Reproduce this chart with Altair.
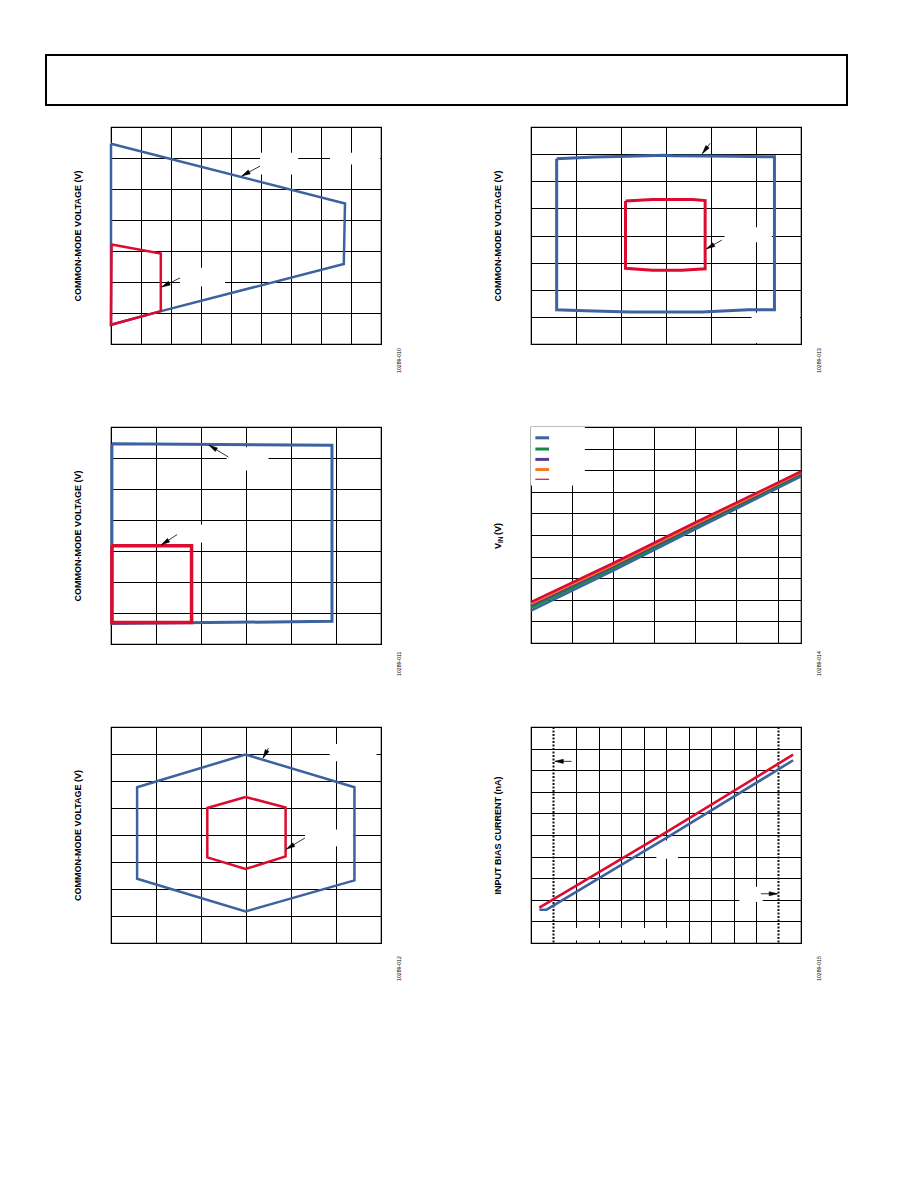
import math
import altair as alt
import pandas as pd

W, H = 270, 217
FONT = "Liberation Sans"

BLUE = "#3d62a0"
RED = "#dc0b2f"
GREEN = "#168a48"
PURPLE = "#5a3b93"
ORANGE = "#f47a22"

# ---------------- data ----------------
# Panel 1 (top-left)
p1_blue_x = [0.00, 7.80, 7.76, 1.67, 0.00, 0.00]
p1_blue_y = [6.46, 4.53, 2.58, 1.06, 0.62, 6.46]
p1_red_x = [0.02, 1.66, 1.66, 0.00, 0.02]
p1_red_y = [3.21, 2.92, 1.06, 0.62, 3.21]

# Panel 2 (top-right)
p2_blue_x = [0.57, 1.42, 2.16, 2.95, 3.15, 4.53, 5.41, 5.41, 4.83, 3.80, 2.20, 1.20, 0.57, 0.57]
p2_blue_y = [6.83, 6.89, 6.92, 6.96, 6.94, 6.92, 6.90, 1.26, 1.26, 1.18, 1.18, 1.23, 1.26, 6.83]
p2_red_x = [2.10, 2.70, 3.60, 3.87, 3.87, 3.35, 2.70, 2.10, 2.10]
p2_red_y = [5.27, 5.33, 5.33, 5.29, 2.77, 2.72, 2.72, 2.79, 5.27]

# Panel 3 (middle-left)
p3_blue_x = [0.02, 4.91, 4.91, 0.02, 0.02]
p3_blue_y = [6.46, 6.41, 0.73, 0.66, 6.46]
p3_red_x = [0.02, 1.79, 1.79, 0.02, 0.02]
p3_red_y = [3.17, 3.17, 0.69, 0.69, 3.17]

# Panel 4 (middle-right) - five nearly coincident straight lines
p4_x = [0.0, 2.0, 4.0, 6.57]
p4_series = ["S1", "S2", "S3", "S4", "S5"]
p4_colors = [BLUE, GREEN, PURPLE, ORANGE, RED]
p4_blue = [1.50, 3.35, 5.27, 7.72]
p4_green = [1.63, 3.46, 5.36, 7.80]
p4_purple = [1.74, 3.55, 5.43, 7.85]
p4_orange = [1.82, 3.62, 5.50, 7.90]
p4_red = [1.89, 3.69, 5.58, 7.94]

# Panel 5 (bottom-left) - hexagons
p5_blue_x = [2.99, 5.41, 5.41, 2.99, 0.58, 0.58, 2.99]
p5_blue_y = [6.98, 5.77, 2.32, 1.17, 2.38, 5.77, 6.98]
p5_red_x = [2.99, 3.88, 3.88, 2.99, 2.14, 2.14, 2.99]
p5_red_y = [5.41, 5.02, 3.21, 2.74, 3.17, 5.00, 5.41]

# Panel 6 (bottom-right)
p6_red_x = [0.37, 6.00, 11.65]
p6_red_y = [1.64, 5.12, 8.72]
p6_blue_x = [0.37, 0.69, 6.00, 11.65]
p6_blue_y = [1.54, 1.54, 4.85, 8.46]
p6_limits = [1, 11]

fig_ids = ["10289-010", "10289-013", "10289-011", "10289-014", "10289-012", "10289-015"]
y_titles = ["COMMON-MODE VOLTAGE (V)", "COMMON-MODE VOLTAGE (V)", "COMMON-MODE VOLTAGE (V)",
            "", "COMMON-MODE VOLTAGE (V)", "INPUT BIAS CURRENT (nA)"]

# annotation label backgrounds (label text removed) and arrows
p1_blank = [(4.97, 6.24, 5.47, 6.17), (7.30, 8.97, 5.79, 6.17), (2.30, 3.80, 1.86, 2.46)]
p1_arrows = [(4.97, 5.74, 4.36, 5.42), (2.30, 2.13, 1.69, 1.84)]
p2_blank = [(4.30, 5.35, 3.75, 4.30), (4.90, 5.98, 0.04, 1.15)]
p2_arrows = [(3.98, 7.40, 3.81, 7.02), (4.24, 3.83, 3.90, 3.51)]
p3_blank = [(2.57, 3.50, 5.60, 6.35), (1.49, 2.09, 3.27, 3.85)]
p3_arrows = [(2.61, 6.03, 2.18, 6.41), (1.47, 3.53, 1.12, 3.20)]
p4_blank = [(0.0, 1.31, 7.29, 10.0)]
p5_blank = [(4.86, 5.90, 6.73, 7.37), (4.31, 5.38, 3.58, 4.20)]
p5_arrows = [(3.50, 7.22, 3.38, 6.85), (4.31, 3.89, 3.90, 3.48)]
p6_blank = [(1.06, 2.00, 8.04, 8.87), (5.57, 6.53, 3.90, 4.75), (9.26, 10.30, 1.90, 2.60),
            (1.03, 6.93, 0.12, 0.69)]
p6_arrows = [(1.80, 8.41, 1.06, 8.41), (10.22, 2.28, 10.96, 2.28)]

# legend of panel 4
leg_y = [9.50, 8.98, 8.50, 8.03, 7.58]
leg_w = [3, 3, 3, 3, 1.2]
leg_x = [0.106, 0.44]

ARROW_SHAPE = "M0,-1L0.5,1L-0.5,1Z"


# ---------------- helpers ----------------
def enc(xdom, ydom, xvals, yvals, ytitle):
    X = alt.X("x:Q", scale=alt.Scale(domain=xdom, nice=False, zero=False),
              axis=alt.Axis(values=xvals, title=None))
    if ytitle:
        yax = alt.Axis(values=yvals, title=ytitle)
    else:
        yax = alt.Axis(values=yvals, title=None)
    Y = alt.Y("y:Q", scale=alt.Scale(domain=ydom, nice=False, zero=False), axis=yax)
    return X, Y


def poly(xs, ys, color, width, X, Y):
    df = pd.DataFrame({"x": xs, "y": ys, "i": list(range(len(xs)))})
    return alt.Chart(df).mark_line(color=color, strokeWidth=width, strokeJoin="miter").encode(
        x=X, y=Y, order="i:Q")


def blanks(rects, X, Y):
    df = pd.DataFrame(rects, columns=["x", "x2", "y", "y2"])
    return alt.Chart(df).mark_rect(color="white").encode(x=X, x2="x2:Q", y=Y, y2="y2:Q")


def arrows(arrs, X, Y, xdom, ydom, h=H, size=72):
    sx = W / (xdom[1] - xdom[0])
    sy = h / (ydom[1] - ydom[0])
    shafts, heads = [], []
    back = math.sqrt(size) / 2
    for tx, ty, hx, hy in arrs:
        dx = (hx - tx) * sx
        dy = -(hy - ty) * sy
        L = math.hypot(dx, dy)
        ang = math.degrees(math.atan2(dx, -dy)) % 360
        cx = hx - dx / L * back / sx
        cy = hy + dy / L * back / sy
        shafts.append({"x": tx, "y": ty, "x2": hx, "y2": hy})
        heads.append({"x": cx, "y": cy, "ang": ang})
    s = alt.Chart(pd.DataFrame(shafts)).mark_rule(color="black", strokeWidth=0.8).encode(
        x=X, y=Y, x2="x2:Q", y2="y2:Q")
    hd = alt.Chart(pd.DataFrame(heads)).mark_point(
        shape=ARROW_SHAPE, filled=True, fill="black", stroke="black", strokeWidth=0.5,
        opacity=1, size=size).encode(
        x=X, y=Y, angle=alt.Angle("ang:Q", scale=None))
    return [s, hd]


def fig_id(text, ybottom):
    return alt.Chart(pd.DataFrame({"t": [text]})).mark_text(
        angle=270, align="left", baseline="middle", fontSize=5.2, font=FONT, color="black").encode(
        x=alt.value(W + 18), y=alt.value(ybottom), text="t:N")


# ---------------- panels ----------------
# Panel 1 (also carries the page header frame above the grid of plots)
xd, yd = [0, 9], [0, 7]
X, Y = enc(xd, yd, list(range(10)), list(range(8)), y_titles[0])
header = alt.Chart(pd.DataFrame({"a": [0]})).mark_rect(
    fillOpacity=0, stroke="black", strokeWidth=2).encode(
    x=alt.value(-65), x2=alt.value(736), y=alt.value(-72), y2=alt.value(-22))
panel1 = alt.layer(
    header,
    blanks(p1_blank, X, Y),
    poly(p1_blue_x, p1_blue_y, BLUE, 2.5, X, Y),
    poly(p1_red_x, p1_red_y, RED, 2.5, X, Y),
    *arrows(p1_arrows, X, Y, xd, yd),
    fig_id(fig_ids[0], 246),
).properties(width=W, height=H)

# Panel 2
xd, yd = [0, 6], [0, 8]
X, Y = enc(xd, yd, list(range(7)), list(range(9)), y_titles[1])
panel2 = alt.layer(
    blanks(p2_blank, X, Y),
    poly(p2_blue_x, p2_blue_y, BLUE, 3, X, Y),
    poly(p2_red_x, p2_red_y, RED, 3, X, Y),
    *arrows(p2_arrows, X, Y, xd, yd),
    fig_id(fig_ids[1], 246),
).properties(width=W, height=H)

# Panel 3
xd, yd = [0, 6], [0, 7]
X, Y = enc(xd, yd, list(range(7)), list(range(8)), y_titles[2])
panel3 = alt.layer(
    blanks(p3_blank, X, Y),
    poly(p3_blue_x, p3_blue_y, BLUE, 3, X, Y),
    poly(p3_red_x, p3_red_y, RED, 3.5, X, Y),
    *arrows(p3_arrows, X, Y, xd, yd),
    fig_id(fig_ids[2], 249),
).properties(width=W, height=H)

# Panel 4
xd, yd = [0, 6.57], [0, 10]
X, Y = enc(xd, yd, list(range(7)), list(range(11)), "")
p4_layers = [blanks(p4_blank, X, Y)]
for name, col, vals in zip(p4_series, p4_colors, [p4_blue, p4_green, p4_purple, p4_orange, p4_red]):
    df = pd.DataFrame({"x": p4_x, "y": vals, "s": name})
    p4_layers.append(alt.Chart(df).mark_line(color=col, strokeWidth=2.6).encode(x=X, y=Y))
leg_df = pd.DataFrame({"x": [leg_x[0]] * 5, "x2": [leg_x[1]] * 5, "y": leg_y,
                       "c": p4_colors, "w": leg_w})
p4_layers.append(alt.Chart(leg_df).mark_rule().encode(
    x=X, x2="x2:Q", y=Y, color=alt.Color("c:N", scale=None),
    strokeWidth=alt.StrokeWidth("w:Q", scale=None)))
vin = pd.DataFrame({"t": ["V", "IN", "(V)"], "px": [-30, -28, -30], "py": [122, 116, 108],
                    "fs": [9, 6.5, 9]})
p4_layers.append(alt.Chart(vin).mark_text(
    angle=270, align="left", baseline="alphabetic", font=FONT, fontWeight="bold", color="black").encode(
    x=alt.X("px:Q", scale=None), y=alt.Y("py:Q", scale=None), text="t:N",
    size=alt.Size("fs:Q", scale=None)))
p4_layers.append(fig_id(fig_ids[3], 249))
panel4 = alt.layer(*p4_layers).properties(width=W, height=216)

# Panel 5
xd, yd = [0, 6], [0, 8]
X, Y = enc(xd, yd, list(range(7)), list(range(9)), y_titles[4])
panel5 = alt.layer(
    blanks(p5_blank, X, Y),
    poly(p5_blue_x, p5_blue_y, BLUE, 2.5, X, Y),
    poly(p5_red_x, p5_red_y, RED, 2.5, X, Y),
    *arrows(p5_arrows, X, Y, xd, yd, h=216),
    fig_id(fig_ids[4], 254),
).properties(width=W, height=216)

# Panel 6
xd, yd = [0, 12], [0, 10]
X, Y = enc(xd, yd, [v for v in range(13) if v not in p6_limits], list(range(11)), y_titles[5])
panel6 = alt.layer(
    blanks(p6_blank, X, Y),
    alt.Chart(pd.DataFrame({"x": p6_limits})).mark_rule(
        color="#111111", strokeWidth=2, strokeDash=[2, 1.5]).encode(x=X),
    poly(p6_blue_x, p6_blue_y, BLUE, 2.6, X, Y),
    poly(p6_red_x, p6_red_y, RED, 2.6, X, Y),
    *arrows(p6_arrows, X, Y, xd, yd, h=216),
    fig_id(fig_ids[5], 254),
).properties(width=W, height=216)

# ---------------- page layout ----------------
chart = alt.concat(
    panel1, panel2, panel3, panel4, panel5, panel6,
    columns=2, spacing={"row": 83, "column": 150}, bounds="flush",
).properties(
    padding={"left": 36, "top": 45, "right": 5, "bottom": 5}
).configure_view(stroke="black", strokeWidth=1.2).configure_axis(
    grid=True, gridColor="black", gridOpacity=1, gridWidth=1,
    labels=False, ticks=False, domain=False,
    titleFont=FONT, titleFontSize=9, titleFontWeight="bold", titleColor="black", titlePadding=29,
)

chart.save("out.html", embed_options={"renderer": "svg", "actions": False})
